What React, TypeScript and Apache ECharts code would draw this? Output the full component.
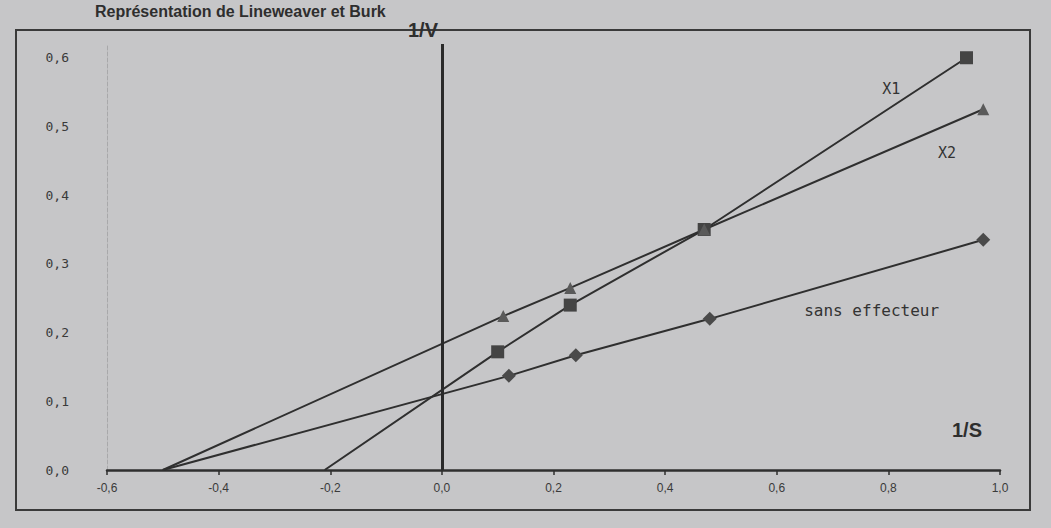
import React, { useEffect, useRef } from "react";
import * as echarts from "echarts";

// Lineweaver-Burk data (1/S, 1/V)
const sansX = [0.12, 0.24, 0.48, 0.97];
const sansY = [0.137, 0.167, 0.22, 0.335];
const x1X = [0.1, 0.23, 0.47, 0.94];
const x1Y = [0.172, 0.24, 0.35, 0.6];
const x2X = [0.11, 0.23, 0.47, 0.97];
const x2Y = [0.224, 0.265, 0.35, 0.525];
// extrapolated intercepts on the 1/S axis
const sansIntercept = [-0.5, 0];
const x1Intercept = [-0.21, 0];
const x2Intercept = [-0.5, 0];

const seriesNames = ["sans effecteur", "X1", "X2"];
const xTicks = { min: -0.6, max: 1.0, interval: 0.2 };
const yTicks = { min: 0, max: 0.62, interval: 0.1 };

const INK = "#2f2f2f";

function buildData(intercept: number[], xs: number[], ys: number[]) {
  const pts: any[] = [{ value: intercept, symbol: "none" }];
  xs.forEach((x, i) => pts.push({ value: [x, ys[i]] }));
  return pts;
}

export default function App() {
  const ref = useRef<HTMLDivElement>(null);
  useEffect(() => {
    document.body.style.margin = "0";
    const chart = echarts.init(ref.current!, undefined, { renderer: "svg" });
    const fmt = (v: number) => v.toFixed(1).replace(".", ",");
    chart.setOption({
      animation: false,
      backgroundColor: "#c6c6c8",
      textStyle: { fontFamily: "Liberation Sans, Arial, sans-serif" },
      grid: { left: 107, right: 51, top: 44, bottom: 58 },
      xAxis: {
        type: "value",
        min: xTicks.min,
        max: xTicks.max,
        interval: xTicks.interval,
        axisLine: { show: true, lineStyle: { color: INK, width: 2.5 } },
        axisTick: { show: true, length: 5, lineStyle: { color: INK, width: 1.5 } },
        axisLabel: { formatter: fmt, color: "#3a3a3a", fontSize: 12, margin: 12 },
        splitLine: { show: false },
      },
      yAxis: {
        type: "value",
        min: yTicks.min,
        max: yTicks.max,
        interval: yTicks.interval,
        axisLine: { show: true, onZero: false, lineStyle: { color: "#a8a8aa", width: 1, type: "dashed" } },
        axisTick: { show: false },
        axisLabel: {
          formatter: (v: number) => (Math.abs(v * 10 - Math.round(v * 10)) < 1e-6 ? fmt(v) : ""),
          color: "#3a3a3a",
          fontSize: 13,
          fontFamily: "DejaVu Sans Mono, monospace",
          margin: 38,
        },
        splitLine: { show: false },
      },
      graphic: [
        {
          type: "rect",
          shape: { x: 16, y: 30, width: 1014, height: 480 },
          style: { fill: "none", stroke: "#3a3a3a", lineWidth: 2 },
          silent: true,
        },
        {
          type: "text",
          left: 95,
          top: 3,
          style: {
            text: "Représentation de Lineweaver et Burk",
            fill: "#2e2e2e",
            font: "bold 16px Liberation Sans, Arial, sans-serif",
          },
        },
        {
          type: "text",
          left: 408,
          top: 20,
          style: { text: "1/V", fill: "#2e2e2e", font: "bold 20px Liberation Sans, Arial, sans-serif" },
        },
        {
          type: "text",
          left: 952,
          top: 420,
          style: { text: "1/S", fill: "#2e2e2e", font: "bold 20px Liberation Sans, Arial, sans-serif" },
        },
      ],
      series: [
        {
          name: seriesNames[0],
          type: "line",
          data: buildData(sansIntercept, sansX, sansY),
          symbol: "diamond",
          symbolSize: 14,
          lineStyle: { color: INK, width: 2 },
          itemStyle: { color: "#4a4a4a" },
          markLine: {
            silent: true,
            symbol: "none",
            label: { show: false },
            lineStyle: { color: "#2a2a2a", width: 3, type: "solid" },
            data: [[{ coord: [0, 0] }, { coord: [0, 0.62] }]],
          },
          markPoint: {
            symbol: "circle",
            symbolSize: 0,
            label: {
              show: true,
              formatter: seriesNames[0],
              color: "#333",
              fontSize: 16,
              fontFamily: "DejaVu Sans Mono, monospace",
            },
            data: [{ coord: [0.77, 0.232] }],
          },
        },
        {
          name: seriesNames[1],
          type: "line",
          data: buildData(x1Intercept, x1X, x1Y),
          symbol: "rect",
          symbolSize: 13,
          lineStyle: { color: INK, width: 2 },
          itemStyle: { color: "#444" },
          markPoint: {
            symbol: "circle",
            symbolSize: 0,
            label: { show: true, formatter: seriesNames[1], color: "#333", fontSize: 15, fontFamily: "DejaVu Sans Mono, monospace" },
            data: [{ coord: [0.805, 0.555] }],
          },
        },
        {
          name: seriesNames[2],
          type: "line",
          data: buildData(x2Intercept, x2X, x2Y),
          symbol: "triangle",
          symbolSize: 12,
          lineStyle: { color: INK, width: 2 },
          itemStyle: { color: "#5a5a5a" },
          markPoint: {
            symbol: "circle",
            symbolSize: 0,
            label: { show: true, formatter: seriesNames[2], color: "#333", fontSize: 15, fontFamily: "DejaVu Sans Mono, monospace" },
            data: [{ coord: [0.905, 0.462] }],
          },
        },
      ],
    });
    return () => chart.dispose();
  }, []);
  return <div ref={ref} style={{ width: 1051, height: 528 }} />;
}
